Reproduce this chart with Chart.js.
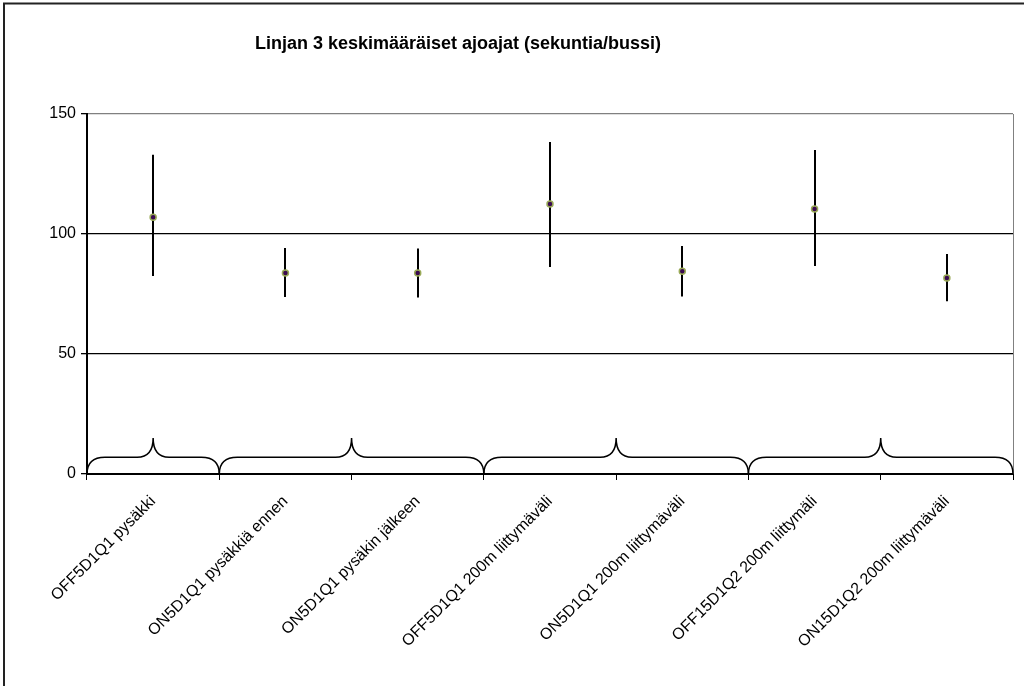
<!DOCTYPE html>
<html><head><meta charset="utf-8">
<script src="https://cdn.jsdelivr.net/npm/chart.js@4/dist/chart.umd.min.js"></script>
<style>html,body{margin:0;padding:0;background:#fff;}#wrap{width:1024px;height:686px;position:relative;}</style>
</head><body><div id="wrap"><canvas id="c" width="1024" height="686"></canvas></div>
<script>
const categories = [
  'OFF5D1Q1 pysäkki',
  'ON5D1Q1 pysäkkiä ennen',
  'ON5D1Q1 pysäkin jälkeen',
  'OFF5D1Q1 200m liittymäväli',
  'ON5D1Q1 200m liittymäväli',
  'OFF15D1Q2 200m liittymäli',
  'ON15D1Q2 200m liittymäväli'
];
const meanValues = [107, 83.7, 83.7, 112.5, 84.5, 110.4, 81.7];
const errorHigh  = [133, 94.2, 94.0, 138.3, 95.0, 135.0, 91.7];
const errorLow   = [82.5, 73.7, 73.5, 86.3, 74.0, 86.7, 72.0];
const yTicks = [0, 50, 100, 150];
const braceGroups = [[0, 0], [1, 2], [3, 4], [5, 6]];
const braceLevel = 7;
const bracePeak = 15;
const titleText = 'Linjan 3 keskimääräiset ajoajat (sekuntia/bussi)';

const FONT = '"Liberation Sans", Arial, sans-serif';

const decorPlugin = {
  id: 'decor',
  beforeDraw(chart) {
    const ctx = chart.ctx;
    ctx.save();
    ctx.fillStyle = '#fff';
    ctx.fillRect(0, 0, chart.width, chart.height);
    ctx.strokeStyle = '#222';
    ctx.lineWidth = 2;
    ctx.beginPath();
    ctx.moveTo(4, 686); ctx.lineTo(4, 3.5); ctx.lineTo(1024, 3.5);
    ctx.stroke();
    ctx.fillStyle = '#000';
    ctx.font = 'bold 18px ' + FONT;
    ctx.textAlign = 'center';
    ctx.textBaseline = 'alphabetic';
    ctx.fillText(titleText, 458, 49);
    ctx.restore();
  },
  beforeDatasetsDraw(chart) {
    const ctx = chart.ctx;
    const xs = chart.scales.x, ys = chart.scales.y;
    const a = chart.chartArea;
    ctx.save();
    ctx.strokeStyle = '#808080';
    ctx.lineWidth = 1;
    ctx.beginPath();
    ctx.moveTo(Math.round(a.right) + 0.5, a.top);
    ctx.lineTo(Math.round(a.right) + 0.5, a.bottom);
    ctx.stroke();
    ctx.strokeStyle = '#000';
    ctx.lineWidth = 2;
    for (let i = 0; i < categories.length; i++) {
      const x = Math.round(xs.getPixelForValue(i));
      ctx.beginPath();
      ctx.moveTo(x, ys.getPixelForValue(errorHigh[i]));
      ctx.lineTo(x, ys.getPixelForValue(errorLow[i]));
      ctx.stroke();
    }
    ctx.lineWidth = 1.5;
    const y0 = ys.getPixelForValue(0);
    const yH = ys.getPixelForValue(braceLevel);
    const yP = ys.getPixelForValue(bracePeak);
    braceGroups.forEach(g => {
      const xa = xs.getPixelForValue(g[0] - 0.5);
      const xb = xs.getPixelForValue(g[1] + 0.5);
      const xc = (xa + xb) / 2;
      const rx = 18, rc = 16;
      ctx.beginPath();
      ctx.moveTo(xa, y0);
      ctx.quadraticCurveTo(xa, yH, xa + rx, yH);
      ctx.lineTo(xc - rc, yH);
      ctx.quadraticCurveTo(xc, yH, xc, yP);
      ctx.quadraticCurveTo(xc, yH, xc + rc, yH);
      ctx.lineTo(xb - rx, yH);
      ctx.quadraticCurveTo(xb, yH, xb, y0);
      ctx.stroke();
    });
    ctx.restore();
  }
};

new Chart(document.getElementById('c'), {
  type: 'line',
  data: {
    labels: categories,
    datasets: [{
      data: meanValues,
      showLine: false,
      pointRadius: 3,
      pointBorderWidth: 1.5,
      pointBackgroundColor: '#3a0a50',
      pointBorderColor: '#9aaa58'
    }]
  },
  options: {
    responsive: false,
    animation: false,
    events: [],
    layout: { padding: { left: 0, top: 114, right: 11, bottom: 0 } },
    plugins: { legend: { display: false }, tooltip: { enabled: false }, title: { display: false } },
    scales: {
      x: {
        type: 'category',
        offset: true,
        afterFit(s) { s.height = 212; },
        grid: { offset: true, drawOnChartArea: false, drawTicks: true, tickLength: 6, tickColor: '#000', lineWidth: 1 },
        border: { display: true, color: '#000', width: 2 },
        ticks: {
          autoSkip: false, minRotation: 45, maxRotation: 45, padding: 12,
          color: '#000', font: { family: FONT, size: 16 }
        }
      },
      y: {
        min: 0, max: 150,
        afterFit(s) { s.width = 87; },
        afterBuildTicks(s) { s.ticks = yTicks.map(v => ({ value: v })); },
        grid: {
          drawTicks: true, tickLength: 6, tickColor: '#000', lineWidth: 1.3,
          color: c => (c.tick && c.tick.value === 150) ? '#808080' : '#000'
        },
        border: { display: true, color: '#000', width: 2 },
        ticks: { color: '#000', padding: 5, font: { family: FONT, size: 16 } }
      }
    }
  },
  plugins: [decorPlugin]
});
</script>
</body></html>
